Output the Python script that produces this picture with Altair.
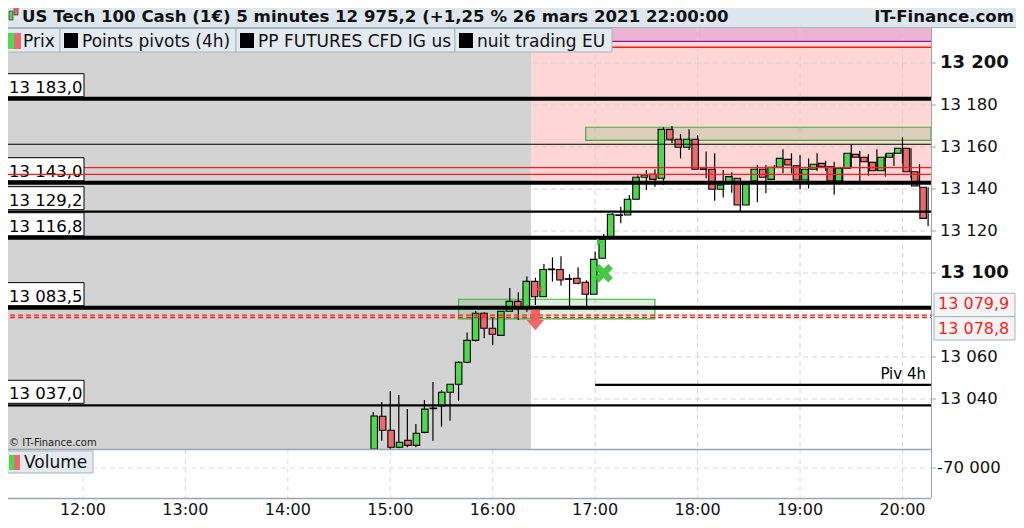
import altair as alt
import pandas as pd

FONT = "DejaVu Sans"

# ---------------- data ----------------
candle_times = ["14:50", "14:55", "15:00", "15:05", "15:10", "15:15", "15:20", "15:25", "15:30", "15:35",
                "15:40", "15:45", "15:50", "15:55", "16:00", "16:05", "16:10", "16:15", "16:20", "16:25",
                "16:30", "16:35", "16:40", "16:45", "16:50", "16:55", "17:00", "17:05", "17:10", "17:15",
                "17:20", "17:25", "17:30", "17:35", "17:40", "17:45", "17:50", "17:55", "18:00", "18:05",
                "18:10", "18:15", "18:20", "18:25", "18:30", "18:35", "18:40", "18:45", "18:50", "18:55",
                "19:00", "19:05", "19:10", "19:15", "19:20", "19:25", "19:30", "19:35", "19:40", "19:45",
                "19:50", "19:55", "20:00", "20:05", "20:10", "20:15"]
c_open = [13010.0, 13031.8, 13025.1, 13017.0, 13020.3, 13017.9, 13024.1, 13035.7, 13036.7, 13043.2,
          13047.0, 13057.5, 13067.9, 13080.8, 13073.7, 13070.3, 13081.8, 13086.5, 13084.0, 13096.0,
          13088.7, 13101.9, 13101.7, 13097.3, 13097.5, 13095.6, 13089.9, 13107.0, 13117.3, 13127.7,
          13127.6, 13135.1, 13145.6, 13147.0, 13145.1, 13168.4, 13163.7, 13159.9, 13163.7, 13149.6,
          13149.4, 13139.9, 13143.5, 13145.1, 13132.4, 13143.8, 13149.4, 13144.6, 13150.3, 13154.1,
          13151.1, 13144.3, 13149.4, 13152.2, 13150.6, 13143.8, 13149.9, 13156.5, 13155.1, 13152.7,
          13148.7, 13155.1, 13157.0, 13159.4, 13148.2, 13140.8]
c_high = [13033.8, 13038.6, 13043.8, 13041.9, 13035.2, 13028.1, 13039.5, 13048.1, 13044.3, 13047.0,
          13058.0, 13071.7, 13081.9, 13081.3, 13078.7, 13081.9, 13092.9, 13090.8, 13098.3, 13097.7,
          13104.3, 13107.5, 13108.0, 13099.4, 13102.7, 13096.6, 13110.2, 13118.6, 13128.5, 13131.6,
          13137.1, 13146.5, 13149.0, 13149.4, 13169.4, 13170.0, 13166.2, 13168.4, 13165.7, 13157.8,
          13157.0, 13149.0, 13148.0, 13145.1, 13142.2, 13151.4, 13151.4, 13151.4, 13158.9, 13157.0,
          13156.2, 13154.6, 13157.0, 13153.5, 13153.0, 13149.9, 13161.3, 13158.1, 13156.7, 13158.9,
          13156.5, 13157.5, 13164.6, 13159.4, 13151.8, 13140.8]
c_low = [13008.0, 13020.1, 13016.2, 13016.5, 13017.0, 13017.0, 13023.7, 13020.1, 13026.8, 13029.7,
         13039.2, 13057.0, 13067.4, 13068.9, 13065.6, 13070.3, 13081.8, 13077.6, 13081.6, 13084.8,
         13088.7, 13095.9, 13094.1, 13084.0, 13094.6, 13084.0, 13089.9, 13107.0, 13117.3, 13123.7,
         13127.6, 13135.1, 13139.5, 13141.1, 13141.9, 13161.8, 13154.6, 13158.6, 13149.4, 13145.1,
         13134.4, 13136.0, 13138.2, 13129.0, 13132.4, 13133.7, 13138.0, 13144.6, 13147.5, 13147.5,
         13139.9, 13140.3, 13148.6, 13148.6, 13137.3, 13143.8, 13149.9, 13143.8, 13146.3, 13148.7,
         13145.9, 13150.9, 13152.2, 13145.1, 13140.8, 13122.4]
c_close = [13031.9, 13025.1, 13017.0, 13019.4, 13017.9, 13023.7, 13035.2, 13035.4, 13043.2, 13047.0,
           13057.5, 13067.9, 13080.8, 13073.7, 13070.8, 13081.8, 13086.5, 13084.0, 13096.0, 13088.7,
           13101.7, 13101.6, 13096.7, 13097.0, 13095.1, 13089.9, 13106.5, 13116.0, 13128.0, 13127.4,
           13135.1, 13145.6, 13146.7, 13144.6, 13168.4, 13163.7, 13159.9, 13163.7, 13149.4, 13149.3,
           13139.9, 13141.9, 13145.9, 13132.4, 13142.2, 13149.4, 13145.6, 13150.3, 13154.6, 13151.4,
           13144.3, 13149.4, 13151.8, 13150.6, 13143.8, 13149.9, 13157.0, 13155.1, 13153.0, 13148.7,
           13155.1, 13157.0, 13159.4, 13148.2, 13141.4, 13126.0]

levels_thick = [13183.0, 13143.0, 13116.8, 13083.5]
levels_medium = [13129.2, 13037.0]
levels_thin = [13161.3]
red_line_a = [13150.2]
red_line_b = [13147.0]
red_dashed = [13079.9, 13078.8]
top_purple = [13210.3]
top_red = [13207.5]
left_labels = [13183.0, 13143.0, 13129.2, 13116.8, 13083.5, 13037.0]
piv4h_value = 13046.7
piv4h_start = "17:00"

night_end = "16:22:30"
pink_low = 13143.0

zone_top = {"start": "16:54:30", "lo": 13163.2, "hi": 13169.4}
zone_bottom = {"start": "15:40", "end": "17:35", "lo": 13078.2, "hi": 13087.5}

arrow_down = ("16:25", 13077.6)
tri_left = ("16:27", 13092.4)
tri_right = ("17:02:45", 13114.8)
cross_mark = ("17:05", 13099.9)

y_ticks = [13040, 13060, 13080, 13100, 13120, 13140, 13160, 13180, 13200]
y_labelled = [13040, 13060, 13100, 13120, 13140, 13160, 13180, 13200]   # 13 080 hidden by price tags
y_bold = [13100, 13200]
hours = ["12:00", "13:00", "14:00", "15:00", "16:00", "17:00", "18:00", "19:00", "20:00"]
price_tags = [13079.9, 13078.8]

title = "US Tech 100 Cash (1€) 5 minutes 12 975,2 (+1,25 % 26 mars 2021 22:00:00"
legend_items = ["Prix", "Points pivots (4h)", "PP FUTURES CFD IG us", "nuit trading EU"]


# ---------------- helpers ----------------
def tmin(s):
    p = s.split(":")
    v = int(p[0]) * 60 + int(p[1])
    if len(p) > 2:
        v += int(p[2]) / 60
    return v


def fr(v, dec=1):
    s = f"{v:,.{dec}f}" if dec else f"{v:,.0f}"
    return s.replace(",", " ").replace(".", ",")


xs = alt.Scale(domain=[672.6, 1216.7], range=[2, 931], nice=False, zero=False)
ys = alt.Scale(domain=[13016.19, 13216.67], range=[449, 28], nice=False, zero=False, clamp=True)


def ex(f="t"):
    return alt.X(f, type="quantitative", scale=xs, axis=None)


def ey(f="v"):
    return alt.Y(f, type="quantitative", scale=ys, axis=None)


def px(f="x"):
    return alt.X(f, type="quantitative", scale=None, axis=None)


def py(f="y"):
    return alt.Y(f, type="quantitative", scale=None, axis=None)


def prects(rows, **mark):
    df = pd.DataFrame(rows, columns=["x", "x2", "y", "y2"])
    return alt.Chart(df).mark_rect(**mark).encode(x=px("x"), x2="x2:Q", y=py("y"), y2="y2:Q")


def prules(rows, **mark):
    df = pd.DataFrame(rows, columns=["x", "x2", "y", "y2"])
    return alt.Chart(df).mark_rule(**mark).encode(x=px("x"), x2="x2:Q", y=py("y"), y2="y2:Q")


def ptexts(rows, **mark):
    df = pd.DataFrame(rows, columns=["x", "y", "text"])
    mark.setdefault("font", FONT)
    return alt.Chart(df).mark_text(**mark).encode(x=px("x"), y=py("y"), text="text:N")


def hlines(values, **mark):
    df = pd.DataFrame({"v": values})
    return alt.Chart(df).mark_rule(**mark).encode(y=ey("v"), x=alt.value(2), x2=alt.value(931))


layers = []

# backgrounds
layers.append(alt.Chart(pd.DataFrame({"t": [tmin(night_end)], "v": [pink_low]}))
              .mark_rect(color="#ffd6d6")
              .encode(x=ex("t"), x2=alt.value(931), y=ey("v"), y2=alt.value(28)))
layers.append(alt.Chart(pd.DataFrame({"t": [tmin(night_end)], "v": top_purple}))
              .mark_rect(color="#ebb4d2")
              .encode(x=ex("t"), x2=alt.value(931), y=ey("v"), y2=alt.value(28)))

# grid
layers.append(alt.Chart(pd.DataFrame({"v": y_ticks}))
              .mark_rule(color="#d2d2d2", strokeDash=[5, 4], strokeWidth=1)
              .encode(y=ey("v"), x=alt.value(2), x2=alt.value(931)))
hdf = pd.DataFrame({"t": [tmin(h) for h in hours]})
layers.append(alt.Chart(hdf).mark_rule(color="#d2d2d2", strokeDash=[5, 4], strokeWidth=1)
              .encode(x=ex("t"), y=alt.value(28), y2=alt.value(449)))
layers.append(alt.Chart(hdf).mark_rule(color="#dcdcdc", strokeDash=[5, 4], strokeWidth=1)
              .encode(x=ex("t"), y=alt.value(450), y2=alt.value(498)))

# night trading region (gray)
layers.append(alt.Chart(pd.DataFrame({"t": [tmin(night_end)]}))
              .mark_rect(color="#d3d3d3")
              .encode(x=ex("t"), x2=alt.value(2), y=alt.value(28), y2=alt.value(449)))

# zones
layers.append(alt.Chart(pd.DataFrame({"t": [tmin(zone_top["start"])], "lo": [zone_top["lo"]], "hi": [zone_top["hi"]]}))
              .mark_rect(fill="#40b040", fillOpacity=0.18, stroke="#3ab53a", strokeWidth=1.2)
              .encode(x=ex("t"), x2=alt.value(931), y=ey("lo"), y2=alt.Y2("hi")))
layers.append(alt.Chart(pd.DataFrame({"t": [tmin(zone_bottom["start"])], "t2": [tmin(zone_bottom["end"])],
                                      "lo": [zone_bottom["lo"]], "hi": [zone_bottom["hi"]]}))
              .mark_rect(fill="#40b040", fillOpacity=0.18, stroke="#3ab53a", strokeWidth=1.2)
              .encode(x=ex("t"), x2=alt.X2("t2"), y=ey("lo"), y2=alt.Y2("hi")))

# candles
cdf = pd.DataFrame({"t": [tmin(s) for s in candle_times], "o": c_open, "h": c_high,
                    "l": c_low, "c": c_close})
cdf["dir"] = ["up" if c >= o else "down" for o, c in zip(c_open, c_close)]
layers.append(alt.Chart(cdf).mark_rule(color="black", strokeWidth=1.2)
              .encode(x=ex("t"), y=ey("l"), y2=alt.Y2("h")))
layers.append(alt.Chart(cdf).mark_bar(width=6.5, stroke="black", strokeWidth=1.1)
              .encode(x=ex("t"), y=ey("o"), y2=alt.Y2("c"),
                      color=alt.Color("dir:N", scale=alt.Scale(domain=["up", "down"],
                                                               range=["#4fd84f", "#ea6b6e"]),
                                      legend=None)))

# horizontal levels
layers.append(hlines(red_line_a, color="#ff1a1a", strokeWidth=1.3))
layers.append(hlines(levels_thin, color="black", strokeWidth=1.1))
layers.append(hlines(levels_medium, color="black", strokeWidth=2.2))
layers.append(hlines(levels_thick, color="black", strokeWidth=4))
layers.append(hlines(red_dashed, color="#ff1a1a", strokeWidth=1.3, strokeDash=[5, 3]))
layers.append(hlines(top_purple, color="#8a1aa8", strokeWidth=1.3))
layers.append(hlines(top_red, color="#ff1a1a", strokeWidth=1.3))
layers.append(alt.Chart(pd.DataFrame({"t": [tmin(piv4h_start)], "v": [piv4h_value]}))
              .mark_rule(color="black", strokeWidth=2.2)
              .encode(x=ex("t"), x2=alt.value(931), y=ey("v")))
layers.append(alt.Chart(pd.DataFrame({"v": [piv4h_value], "text": ["Piv 4h"]}))
              .mark_text(font=FONT, fontSize=15, align="right", baseline="alphabetic", dy=-6, color="black")
              .encode(x=alt.value(926), y=ey("v"), text="text:N"))

# left value boxes
ldf = pd.DataFrame({"v": left_labels, "text": [fr(v) for v in left_labels]})
layers.append(alt.Chart(ldf).mark_rect(fill="white", stroke="black", strokeWidth=1, yOffset=-25, y2Offset=-2)
              .encode(x=alt.value(1), x2=alt.value(84), y=ey("v"), y2=alt.Y2("v")))
layers.append(alt.Chart(ldf).mark_text(font=FONT, fontSize=16.5, align="left", baseline="alphabetic", dy=-6,
                                       color="black")
              .encode(x=alt.value(9), y=ey("v"), text="text:N"))
layers.append(hlines(red_line_b, color="#ff1a1a", strokeWidth=1.3))

# signal markers
arrow_path = "M-0.45,-1 L0.45,-1 L0.45,0 L0.85,0 L0,1 L-0.85,0 L-0.45,0 Z"
x_path = ("M-1,-0.5 L-0.5,-1 L0,-0.5 L0.5,-1 L1,-0.5 L0.5,0 L1,0.5 L0.5,1 L0,0.5 "
          "L-0.5,1 L-1,0.5 L-0.5,0 Z")


def marker(pt, **mark):
    df = pd.DataFrame({"t": [tmin(pt[0])], "v": [pt[1]]})
    return alt.Chart(df).mark_point(filled=True, **mark).encode(x=ex("t"), y=ey("v"))


layers.append(marker(arrow_down, shape=arrow_path, size=420, color="#f05858", opacity=0.9, strokeWidth=0))
layers.append(marker(tri_left, shape="triangle-left", size=40, color="#e84545", opacity=1))
layers.append(marker(tri_right, shape="triangle-right", size=45, color="#3cc83c", opacity=1))
layers.append(marker(cross_mark, shape=x_path, size=340, color="#3cc43c", opacity=0.95, strokeWidth=0))

# panel borders
layers.append(prules([(931.5, 931.5, 27, 498)], color="#9aa5ae", strokeWidth=1))
layers.append(prules([(0, 931, 449.5, 449.5), (0, 931, 498.5, 498.5)], color="#9aa5ae", strokeWidth=1.5))

# header
layers.append(prects([(0, 1024, 0, 27.5)], fill="#dfe7ee", stroke="#a7b3bd", strokeWidth=1))
layers.append(prects([(9, 13, 11, 20)], fill="#4fd84f", stroke="#333", strokeWidth=0.7))
layers.append(prects([(14, 18, 6, 15)], fill="#ea6b6e", stroke="#333", strokeWidth=0.7))
layers.append(ptexts([(22, 22, title)], fontSize=16.6, fontWeight="bold", align="left", baseline="alphabetic",
                     color="#111111"))
layers.append(ptexts([(1014, 22, "IT-Finance.com")], fontSize=16.6, fontWeight="bold", align="right",
                     baseline="alphabetic", color="#111111"))

# legend row
legend_boxes = [(1, 60), (60, 236), (236, 455), (455, 612)]
layers.append(prects([(a, b, 28.5, 52) for a, b in legend_boxes], fill="#e3eaf0", stroke="#a7b3bd",
                     strokeWidth=1))
layers.append(prects([(8, 14, 33, 49)], fill="#4fd84f"))
layers.append(prects([(14, 21, 33, 49)], fill="#ea6b6e"))
layers.append(prects([(a + 4, a + 18, 33, 48) for a, b in legend_boxes[1:]], fill="black"))
layers.append(ptexts([(legend_boxes[0][0] + 22, 47, legend_items[0])] +
                     [(a + 22, 47, name) for (a, b), name in zip(legend_boxes[1:], legend_items[1:])],
                     fontSize=17, align="left", baseline="alphabetic", color="#111111"))

# copyright
layers.append(ptexts([(9, 443, "© IT-Finance.com")], fontSize=10, align="left", baseline="middle",
                     color="#222222"))

# volume panel
layers.append(prules([(2, 931, 468, 468)], color="#dcdcdc", strokeDash=[5, 4], strokeWidth=1))
layers.append(prects([(1, 93, 451, 473)], fill="#e3eaf0", stroke="#a7b3bd", strokeWidth=1))
layers.append(prects([(9, 14, 455, 470)], fill="#4fd84f"))
layers.append(prects([(14, 20, 455, 470)], fill="#ea6b6e"))
layers.append(ptexts([(24, 468, "Volume")], fontSize=17, align="left", baseline="alphabetic", color="#111111"))
layers.append(prules([(931, 936, 468, 468)], color="#9aa5ae", strokeWidth=1))
layers.append(ptexts([(937, 468, "-70 000")], fontSize=16.5, align="left", baseline="middle", color="#111111"))

# right price axis
tdf = pd.DataFrame({"v": y_ticks})
layers.append(alt.Chart(tdf).mark_rule(color="#9aa5ae", strokeWidth=1)
              .encode(y=ey("v"), x=alt.value(931), x2=alt.value(936)))
norm = [v for v in y_labelled if v not in y_bold]
ndf = pd.DataFrame({"v": norm, "text": [fr(v, 0) for v in norm]})
bdf = pd.DataFrame({"v": y_bold, "text": [fr(v, 0) for v in y_bold]})
layers.append(alt.Chart(ndf).mark_text(font=FONT, fontSize=16.5, align="left", baseline="middle",
                                       color="#111111")
              .encode(x=alt.value(940), y=ey("v"), text="text:N"))
layers.append(alt.Chart(bdf).mark_text(font=FONT, fontSize=18, fontWeight="bold", align="left",
                                       baseline="middle", color="#111111")
              .encode(x=alt.value(940), y=ey("v"), text="text:N"))

# price tags
p1 = pd.DataFrame({"v": [price_tags[0]], "text": [fr(price_tags[0])]})
p2 = pd.DataFrame({"v": [price_tags[1]], "text": [fr(price_tags[1])]})
layers.append(alt.Chart(p1).mark_rect(fill="#f4f4f4", stroke="#a7b3bd", strokeWidth=1, yOffset=-22, y2Offset=1.5)
              .encode(x=alt.value(934), x2=alt.value(1015), y=ey("v"), y2=alt.Y2("v")))
layers.append(alt.Chart(p2).mark_rect(fill="#f4f4f4", stroke="#a7b3bd", strokeWidth=1, yOffset=-0.8, y2Offset=22.5)
              .encode(x=alt.value(934), x2=alt.value(1015), y=ey("v"), y2=alt.Y2("v")))
layers.append(alt.Chart(p1).mark_text(font=FONT, fontSize=16, align="left", baseline="alphabetic", dy=-6,
                                      color="#ff1a1a")
              .encode(x=alt.value(938), y=ey("v"), text="text:N"))
layers.append(alt.Chart(p2).mark_text(font=FONT, fontSize=16, align="left", baseline="alphabetic", dy=16,
                                      color="#ff1a1a")
              .encode(x=alt.value(938), y=ey("v"), text="text:N"))

# time axis labels
xdf = pd.DataFrame({"t": [tmin(h) for h in hours], "text": hours})
layers.append(alt.Chart(xdf).mark_text(font=FONT, fontSize=16, align="center", baseline="middle",
                                       color="#111111")
              .encode(x=ex("t"), y=alt.value(510), text="text:N"))

chart = (alt.layer(*layers)
         .resolve_scale(x="independent", y="independent", color="independent")
         .properties(width=1024, height=528,
                     padding={"left": -8, "top": -8, "right": -8, "bottom": -8},
                     autosize=alt.AutoSizeParams(type="none"),
                     background="white")
         .configure_view(stroke=None))

chart.save("out.html", embed_options={"renderer": "svg", "actions": False})
